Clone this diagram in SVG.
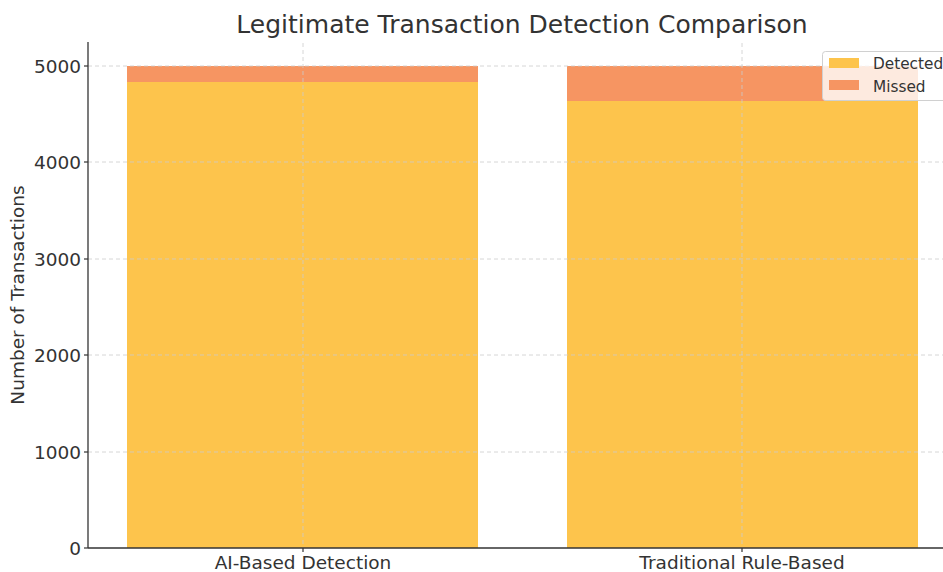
<svg xmlns="http://www.w3.org/2000/svg" width="943" height="572" viewBox="0 0 943 572">
  <style>
    text { font-family: "DejaVu Sans", "Liberation Sans", sans-serif; fill: #333; }
    .tick { font-size: 18.5px; }
    .grid { stroke: #cccccc; stroke-width: 0.8; stroke-dasharray: 4 3; fill: none; }
    .det { fill: #fdc44c; }
    .mis { fill: #f69562; }
    .axis { stroke: #333; stroke-width: 1.3; fill: none; }
  </style>
  <rect width="943" height="572" fill="#ffffff"/>

  <!-- title -->
  <text x="522" y="33" font-size="25" text-anchor="middle">Legitimate Transaction Detection Comparison</text>

  <!-- bars -->
  <g id="bar-ai">
    <rect class="det" x="127" y="82" width="351" height="466"/>
    <rect class="mis" x="127" y="66" width="351" height="16"/>
  </g>
  <g id="bar-traditional">
    <rect class="det" x="567" y="101" width="351" height="447"/>
    <rect class="mis" x="567" y="66" width="351" height="35"/>
  </g>

  <!-- grid -->
  <g id="grid">
    <line class="grid" x1="88" y1="66" x2="943" y2="66"/>
    <line class="grid" x1="88" y1="162" x2="943" y2="162"/>
    <line class="grid" x1="88" y1="259" x2="943" y2="259"/>
    <line class="grid" x1="88" y1="355" x2="943" y2="355"/>
    <line class="grid" x1="88" y1="452" x2="943" y2="452"/>
    <line class="grid" x1="303" y1="43" x2="303" y2="548"/>
    <line class="grid" x1="742" y1="43" x2="742" y2="548"/>
  </g>

  <!-- axes -->
  <g id="axes">
    <line class="axis" x1="88" y1="42" x2="88" y2="548"/>
    <line class="axis" x1="88" y1="548" x2="943" y2="548"/>
    <g stroke="#333" stroke-width="1.2">
      <line x1="84" y1="548" x2="88" y2="548"/>
      <line x1="84" y1="452" x2="88" y2="452"/>
      <line x1="84" y1="355" x2="88" y2="355"/>
      <line x1="84" y1="259" x2="88" y2="259"/>
      <line x1="84" y1="162" x2="88" y2="162"/>
      <line x1="84" y1="66" x2="88" y2="66"/>
      <line x1="303" y1="548" x2="303" y2="552"/>
      <line x1="742" y1="548" x2="742" y2="552"/>
    </g>
    <g text-anchor="end">
      <text class="tick" x="81" y="555">0</text>
      <text class="tick" x="81" y="459">1000</text>
      <text class="tick" x="81" y="362">2000</text>
      <text class="tick" x="81" y="266">3000</text>
      <text class="tick" x="81" y="169">4000</text>
      <text class="tick" x="81" y="73">5000</text>
    </g>
    <text class="tick" x="303" y="569" text-anchor="middle">AI-Based Detection</text>
    <text class="tick" x="742" y="569" text-anchor="middle">Traditional Rule-Based</text>
    <text class="tick" x="24" y="295" text-anchor="middle" transform="rotate(-90 24 295)">Number of Transactions</text>
  </g>

  <!-- legend -->
  <g id="legend">
    <rect x="822.5" y="51.5" width="130" height="49" rx="3" fill="#ffffff" fill-opacity="0.8" stroke="#d0d0d0"/>
    <rect class="det" x="829" y="58" width="30" height="10"/>
    <rect class="mis" x="829" y="80" width="30" height="10"/>
    <text x="873" y="69" font-size="15.3">Detected</text>
    <text x="873" y="92" font-size="15.3">Missed</text>
  </g>
</svg>
